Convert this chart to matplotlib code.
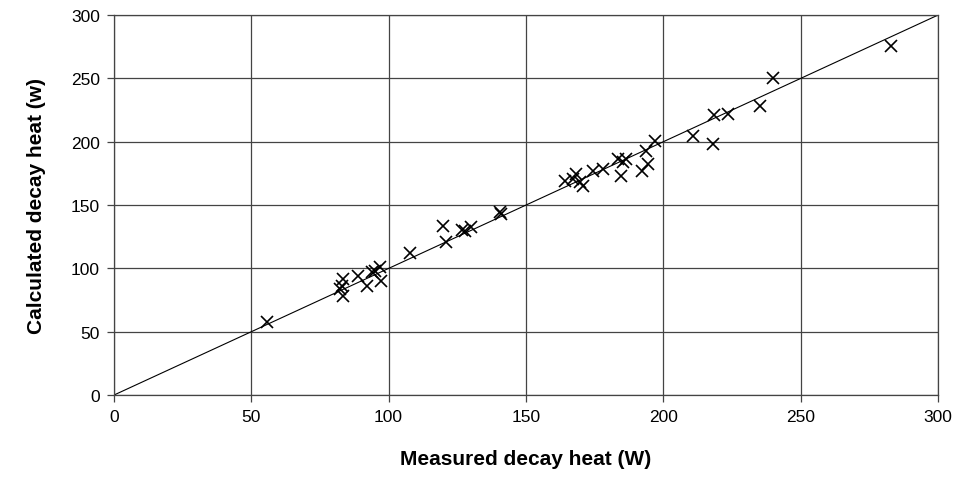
import numpy as np
import matplotlib
matplotlib.use("Agg")
import matplotlib.pyplot as plt

plt.rcParams['font.family'] = ['Liberation Sans', 'DejaVu Sans']

# measured vs calculated decay heat (W)
measured = [55.6, 82.3, 82.9, 83.5, 83.5, 88.9, 92.0, 93.8, 95.0, 96.8, 97.4,
            107.8, 119.9, 121.1, 126.6, 127.8, 130.2, 140.5, 141.0,
            164.2, 167.2, 168.4, 169.6, 170.8, 174.5, 178.1, 183.6, 184.8,
            185.4, 186.6, 192.1, 193.9, 194.5, 197.0, 210.7, 218.2, 218.5,
            223.5, 235.4, 240.0, 283.1]
calculated = [57.9, 83.7, 86.3, 91.6, 78.4, 94.2, 86.3, 96.9, 98.1, 100.8, 90.2,
              112.1, 133.7, 121.0, 130.5, 129.7, 132.4, 144.2, 143.0,
              169.2, 170.5, 174.5, 167.9, 165.2, 177.0, 178.4, 186.3, 173.1,
              183.7, 186.3, 177.0, 192.9, 182.4, 200.8, 204.2, 198.2, 221.0,
              222.0, 228.4, 250.0, 275.8]
ticks = [0, 50, 100, 150, 200, 250, 300]

fig = plt.figure(figsize=(9.57, 4.89), dpi=100)
ax = fig.add_axes([0.119, 0.190, 0.861, 0.777])

ax.plot([0, 300], [0, 300], color='black', lw=0.8, zorder=2)
ax.plot(measured, calculated, 'x', color='black', ms=9, mew=1.2, zorder=3)

ax.set_xlim(0, 300)
ax.set_ylim(0, 300)
ax.set_xticks(ticks)
ax.set_yticks(ticks)
ax.grid(True, color='#444444', lw=0.9)
ax.set_axisbelow(True)
for s in ax.spines.values():
    s.set_color('#444444')
    s.set_linewidth(0.9)
ax.tick_params(direction='out', length=5, width=0.9, color='#444444',
               labelsize=12.5, pad=5)

ax.set_xlabel('Measured decay heat (W)', fontsize=15, fontweight='bold', labelpad=18)
ax.set_ylabel('Calculated decay heat (w)', fontsize=15, fontweight='bold', labelpad=18)

fig.savefig('out.png', dpi=100)
